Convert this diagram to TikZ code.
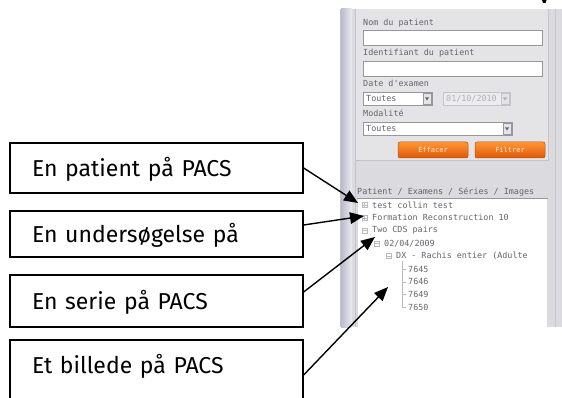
\documentclass[tikz,border=0pt]{standalone}
\usepackage{fontspec}
\setmainfont{Fira Sans}
\newfontfamily\uimono{DejaVu Sans Mono}
\usetikzlibrary{arrows.meta,calc,shadings}
\definecolor{panelbg}{RGB}{218,218,223}
\definecolor{fieldbg}{RGB}{228,228,231}
\definecolor{stripdark}{RGB}{186,186,204}
\definecolor{striplight}{RGB}{236,236,241}
\definecolor{edgegray}{RGB}{196,196,202}
\definecolor{uitext}{RGB}{100,100,108}
\definecolor{inputedge}{RGB}{150,150,156}
\definecolor{disabledtext}{RGB}{175,175,182}
\definecolor{disabledbg}{RGB}{236,236,240}
\definecolor{btntop}{RGB}{255,150,55}
\definecolor{btnbot}{RGB}{222,88,8}
\definecolor{btnedge}{RGB}{190,80,15}
\definecolor{treeline}{RGB}{185,185,190}
\begin{document}
\begin{tikzpicture}[x=1pt,y=-1pt,
  textbox/.style={draw, line width=1.3pt, fill=white, font=\fontsize{23}{25}\selectfont,
    text width=249pt, inner xsep=22pt, inner ysep=0pt, align=left,
    text height=17pt, text depth=0pt},
  pointer/.style={line width=1.4pt, -{Triangle[length=14pt,width=11.5pt]}},
  uilabel/.style={anchor=west, inner sep=0pt, font=\uimono\fontsize{8.4}{9}\selectfont, text=uitext},
  inputbox/.style={fill=white, draw=inputedge, line width=0.6pt},
  ddbutton/.style={fill=fieldbg, draw=inputedge, line width=0.4pt},
  orangebtn/.style={rounded corners=2pt, top color=btntop, bottom color=btnbot, draw=btnedge, line width=0.5pt},
  btntext/.style={inner sep=0pt, font=\uimono\fontsize{7}{8}\selectfont, text={rgb,255:red,255;green,235;blue,210}},
  expander/.style={draw=treeline, fill=white, line width=0.5pt, minimum size=5pt, inner sep=0pt}
]
\useasboundingbox (0,0) rectangle (562,398);

% ---------- screenshot ----------
\fill[panelbg] (340,9) rectangle (562,327);
\shade[left color=stripdark, right color=striplight] (341,9) rectangle (352,327);
\draw[edgegray, line width=0.8pt] (340.5,9) -- (340.5,327);
\draw[edgegray, line width=0.8pt] (355,9) -- (355,327);
\draw[edgegray, line width=0.8pt] (555,9) -- (555,327);
\fill[fieldbg] (355.5,9) rectangle (548,160);
\draw[edgegray, line width=0.8pt] (355.5,160) -- (548,160) -- (548,9);
\fill[black] (542,0) -- (546.5,0) -- (545.5,3) -- (543,3) -- cycle;

\node[uilabel] (lnom) at (363,23) {Nom du patient};
\path[inputbox] (363,30) rectangle (542,45);
\node[uilabel] (lid) at (363,53.5) {Identifiant du patient};
\path[inputbox] (363,61) rectangle (542,76);
\node[uilabel] (ldate) at (363,83.5) {Date d'examen};
\path[inputbox] (363,92) rectangle (432,105);
\node[uilabel] (s1) at (366,98.5) {Toutes};
\path[ddbutton] (423,93) rectangle (431,104);
\fill[uitext] (425,97.5) -- (429,97.5) -- (427,100.5) -- cycle;
\path[fill=disabledbg, draw=edgegray, line width=0.6pt] (443,92) rectangle (510,105);
\node[uilabel, text=disabledtext] (s2) at (446,98.5) {01/10/2010};
\path[ddbutton, draw=edgegray] (501,93) rectangle (509,104);
\fill[disabledtext] (503,97.5) -- (507,97.5) -- (505,100.5) -- cycle;
\node[uilabel] (lmod) at (363,113.5) {Modalité};
\path[inputbox] (363,122) rectangle (512,135);
\node[uilabel] (s3) at (366,128.5) {Toutes};
\path[ddbutton] (503,123) rectangle (511,134);
\fill[uitext] (505,127.5) -- (509,127.5) -- (507,130.5) -- cycle;
\path[orangebtn] (398,142) rectangle (468,158);
\node[btntext] (beff) at (433,150) {Effacer};
\path[orangebtn] (475,142) rectangle (545,158);
\node[btntext] (bfil) at (510,150) {Filtrer};

% tree panel
\fill[white] (358,199) rectangle (547,327);
\node[uilabel] (ttl) at (357,192) {Patient / Examens / Séries / Images};
\draw[inputedge, line width=0.8pt] (357,198.8) -- (548,198.8);

\node[expander] (e1) at (364.5,205) {};
\draw[treeline, line width=0.5pt] (362.5,205) -- (366.5,205) (364.5,203) -- (364.5,207);
\node[uilabel] (r1) at (372,205) {test collin test};
\node[expander] (e2) at (364.5,217.8) {};
\draw[treeline, line width=0.5pt] (362.5,217.8) -- (366.5,217.8) (364.5,215.8) -- (364.5,219.8);
\node[uilabel] (r2) at (372,217.8) {Formation Reconstruction 10};
\node[expander] (e3) at (364.5,230.6) {};
\draw[treeline, line width=0.5pt] (362.5,230.6) -- (366.5,230.6);
\node[uilabel] (r3) at (372,230.6) {Two CDS pairs};
\node[expander] (e4) at (376.5,243.4) {};
\draw[treeline, line width=0.5pt] (374.5,243.4) -- (378.5,243.4);
\node[uilabel] (r4) at (384,243.4) {02/04/2009};
\node[expander] (e5) at (388.5,256.2) {};
\draw[treeline, line width=0.5pt] (386.5,256.2) -- (390.5,256.2);
\node[uilabel] (r5) at (396,256.2) {DX - Rachis entier (Adulte};
\draw[treeline, line width=0.6pt] (402,261) -- (402,307.4)
  (402,269) -- (406,269) (402,281.8) -- (406,281.8) (402,294.6) -- (406,294.6) (402,307.4) -- (406,307.4);
\node[uilabel] (i1) at (408,269) {7645};
\node[uilabel] (i2) at (408,281.8) {7646};
\node[uilabel] (i3) at (408,294.6) {7649};
\node[uilabel] (i4) at (408,307.4) {7650};

% ---------- callout boxes ----------
\node[textbox, minimum height=50pt] (b1) at (156.5,168) {En patient på PACS};
\node[textbox, minimum height=46pt] (b2) at (156.5,234) {};
\begin{scope}
  \clip (0,0) rectangle (562,247);
  \node[textbox, draw=none, fill=none, minimum height=46pt] (b2t) at (156.5,234) {En undersøgelse på};
\end{scope}
\node[textbox, minimum height=52pt] (b3) at (156.5,301) {En serie på PACS};
\node[textbox, minimum height=70pt, text depth=20pt] (b4) at (156.5,375) {Et billede på PACS};

\coordinate (t1) at (358,203);
\coordinate (t2) at (364,216);
\coordinate (t3) at (375,237);
\coordinate (t4) at (388,287);
\draw[pointer] (b1.east) -- (t1);
\draw[pointer] ([yshift=9pt]b2.east) -- (t2);
\draw[pointer] ([yshift=9pt]b3.east) -- (t3);
\draw[pointer] (b4.east) -- (t4);
\end{tikzpicture}
\end{document}
